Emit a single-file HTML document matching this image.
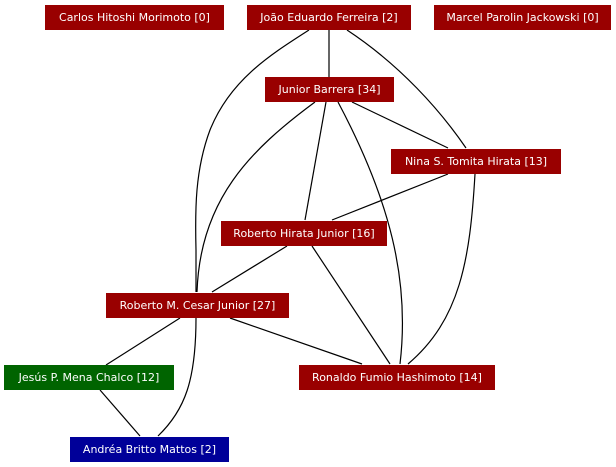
<!DOCTYPE html>
<html><head><meta charset="utf-8"><style>
body{margin:0;background:#fff;width:616px;height:467px;overflow:hidden;position:relative;font-family:"DejaVu Sans","Liberation Sans",sans-serif}
.n{position:absolute;height:25px;line-height:25px;color:#fff;font-size:11px;text-align:center;background:#990000;white-space:nowrap}
svg{position:absolute;left:0;top:0}
</style></head><body>
<svg width="616" height="467" fill="none" stroke="#000" stroke-width="1.2">
<path d="M329,30 L329,77"/>
<path d="M309,30 C270,55 230,80 210,130 C195,170 195,210 196,250 L196,292"/>
<path d="M347,30 C400,65 440,110 466,148"/>
<path d="M352,102 L448,148"/>
<path d="M326,102 L305,220"/>
<path d="M315,102 C250,150 200,200 197,292"/>
<path d="M338,102 C390,200 410,280 400,364"/>
<path d="M448,174 L332,220"/>
<path d="M475,174 C470,260 460,320 408,364"/>
<path d="M287,246 L212,292"/>
<path d="M312,246 L390,364"/>
<path d="M230,318 L362,364"/>
<path d="M180,318 L106,365"/>
<path d="M196,318 C196,380 185,410 158,436"/>
<path d="M100,390 L140,436"/>
</svg>
<div class="n" style="left:45px;top:5px;width:179px">Carlos Hitoshi Morimoto [0]</div>
<div class="n" style="left:247px;top:5px;width:164px">João Eduardo Ferreira [2]</div>
<div class="n" style="left:434px;top:5px;width:177px">Marcel Parolin Jackowski [0]</div>
<div class="n" style="left:265px;top:77px;width:129px">Junior Barrera [34]</div>
<div class="n" style="left:391px;top:149px;width:170px">Nina S. Tomita Hirata [13]</div>
<div class="n" style="left:221px;top:221px;width:166px">Roberto Hirata Junior [16]</div>
<div class="n" style="left:106px;top:293px;width:183px">Roberto M. Cesar Junior [27]</div>
<div class="n" style="left:4px;top:365px;width:170px;background:#006400">Jesús P. Mena Chalco [12]</div>
<div class="n" style="left:299px;top:365px;width:196px">Ronaldo Fumio Hashimoto [14]</div>
<div class="n" style="left:70px;top:437px;width:159px;background:#000099">Andréa Britto Mattos [2]</div>
</body></html>
